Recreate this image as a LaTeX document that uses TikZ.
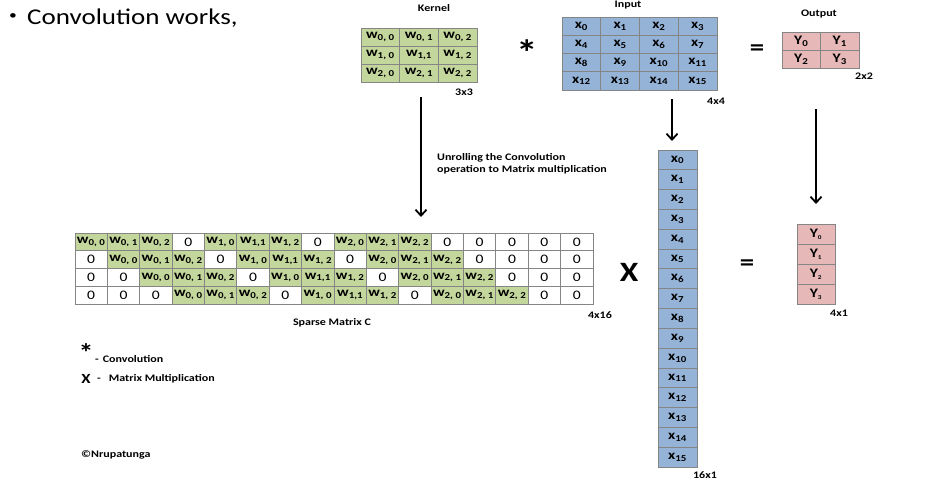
\documentclass[tikz,border=0pt]{standalone}
\usepackage{fontspec}
\setmainfont[FakeStretch=1.2]{Carlito}
\usetikzlibrary{arrows.meta}
\definecolor{kgreen}{HTML}{C3D69B}
\definecolor{iblue}{HTML}{95B3D7}
\definecolor{opink}{HTML}{E6B9B8}
\definecolor{gridline}{HTML}{858585}
\tikzset{
  cell/.style={draw=gridline, line width=0.8pt, inner sep=0pt, text=black,
    font=\fontsize{13}{14}\selectfont\bfseries},
  kcell/.style={cell, fill=kgreen, minimum width=38.67pt, minimum height=18pt},
  icell/.style={cell, fill=iblue, minimum width=38.75pt, minimum height=18.25pt},
  ocell/.style={cell, fill=opink, minimum width=38.5pt, minimum height=18pt},
  scell/.style={cell, minimum width=32.375pt, minimum height=17.75pt},
  zcell/.style={scell, fill=white, font=\fontsize{13}{13}\selectfont},
  wcell/.style={scell, fill=kgreen},
  xcol/.style={cell, fill=iblue, minimum width=39pt, minimum height=19.8125pt},
  ycol/.style={cell, fill=opink, minimum width=38pt, minimum height=20pt},
  lbl/.style={inner sep=0pt, font=\fontsize{10}{12}\selectfont\bfseries},
  sym/.style={inner sep=0pt, font=\fontsize{24}{24}\selectfont\bfseries},
  star/.style={inner sep=0pt, font=\fontsize{36}{36}\selectfont\bfseries},
  arr/.style={line width=1.8pt, -{Straight Barb[length=6pt,width=11pt,line width=1.8pt]}}
}
\begin{document}
\begin{tikzpicture}[x=1pt,y=-1pt]
\useasboundingbox (0,0) rectangle (926,480);
% title
\node[inner sep=0pt, font=\fontsize{13}{13}\selectfont] (bullet) at (13,17) {\textbullet};
\node[anchor=west, inner sep=0pt, font=\fontsize{22.5}{24}\selectfont] (title) at (27,18.5)
  {Convolution works,};
% kernel
\node[lbl] (klbl) at (434,8) {Kernel};
\foreach \t [count=\i from 0] in {{0, 0},{0, 1},{0, 2},{1, 0},{1,1},{1, 2},{2, 0},{2, 1},{2, 2}}{
  \pgfmathtruncatemacro\r{\i/3}
  \pgfmathtruncatemacro\c{mod(\i,3)}
  \node[kcell] (k-\r-\c) at ({361+38.67*(\c+0.5)},{28+18*(\r+0.5)}) {w\textsubscript{\t}};
}
\node[lbl] (k33) at (464,92) {3x3};
\node[star] (star) at (527,53) {*};
% input
\node[lbl] (ilbl) at (628,5) {Input};
\foreach \i in {0,...,15}{
  \pgfmathtruncatemacro\r{\i/4}
  \pgfmathtruncatemacro\c{mod(\i,4)}
  \node[icell] (i-\r-\c) at ({562+38.75*(\c+0.5)},{17+18.25*(\r+0.5)}) {x\textsubscript{\i}};
}
\node[lbl] (i44) at (716,101) {4x4};
\node[sym] (eq1) at (757,50) {=};
% output
\node[lbl] (olbl) at (819,14) {Output};
\foreach \i in {0,...,3}{
  \pgfmathtruncatemacro\r{\i/2}
  \pgfmathtruncatemacro\c{mod(\i,2)}
  \node[ocell] (o-\r-\c) at ({782+38.5*(\c+0.5)},{32+18*(\r+0.5)}) {Y\textsubscript{\i}};
}
\node[lbl] (o22) at (864,76) {2x2};
% arrows
\coordinate (ka1) at (421,97);
\coordinate (ka2) at (421,217);
\coordinate (ia1) at (672,99);
\coordinate (ia2) at (672,141);
\coordinate (oa1) at (816,109);
\coordinate (oa2) at (816,204);
\draw[arr] (ka1) -- (ka2);
\draw[arr] (ia1) -- (ia2);
\draw[arr] (oa1) -- (oa2);
\node[lbl, anchor=north west, align=left] (unroll) at (437,153)
  {Unrolling the Convolution\\operation to Matrix multiplication};
% sparse matrix
\foreach \r in {0,...,3}{
  \foreach \c in {0,...,15}{
    \pgfmathtruncatemacro\d{\c-\r}
    \pgfmathtruncatemacro\ki{floor(\d/4)}
    \pgfmathtruncatemacro\kj{\d-4*\ki}
    \pgfmathtruncatemacro\isw{(\d>=0)&&(\d<=10)&&(\kj<3)}
    \ifnum\isw=1
      \ifnum\ki\kj=11 \def\sub{1,1}\else\edef\sub{\ki, \kj}\fi
      \node[wcell] (c-\r-\c) at ({75+32.375*(\c+0.5)},{233+17.75*(\r+0.5)}) {w\textsubscript{\sub}};
    \else
      \node[zcell] (c-\r-\c) at ({75+32.375*(\c+0.5)},{233+17.75*(\r+0.5)}) {0};
    \fi
  }
}
\node[lbl] (smc) at (332,323) {Sparse Matrix C};
\node[lbl] (c416) at (600,315) {4x16};
\node[inner sep=0pt, font=\fontsize{28}{28}\selectfont\bfseries] (times) at (629,272) {X};
% column x
\foreach \i in {0,...,15}{
  \node[xcol] (x-\i) at (677.5,{150+19.8125*(\i+0.5)}) {x\textsubscript{\i}};
}
\node[lbl] (x161) at (705,475) {16x1};
\node[sym] (eq2) at (747,265) {=};
% column y
\foreach \i in {0,...,3}{
  \node[ycol] (y-\i) at (816,{224+20*(\i+0.5)}) {Y\textsubscript{\fontsize{6}{6}\selectfont\i}};
}
\node[lbl] (y41) at (839,313) {4x1};
% legend
\node[inner sep=0pt, font=\fontsize{25}{25}\selectfont\bfseries] (lstar) at (86,353) {*};
\node[lbl, anchor=west] (lconv) at (95,359) {-\hspace{4pt}Convolution};
\node[inner sep=0pt, font=\fontsize{14}{14}\selectfont\bfseries] (lx) at (86,379) {X};
\node[lbl, anchor=west] (lmm) at (97,379) {-\hspace{8pt}Matrix Multiplication};
\node[lbl, anchor=west] (copy) at (81,455) {©Nrupatunga};
\end{tikzpicture}
\end{document}
